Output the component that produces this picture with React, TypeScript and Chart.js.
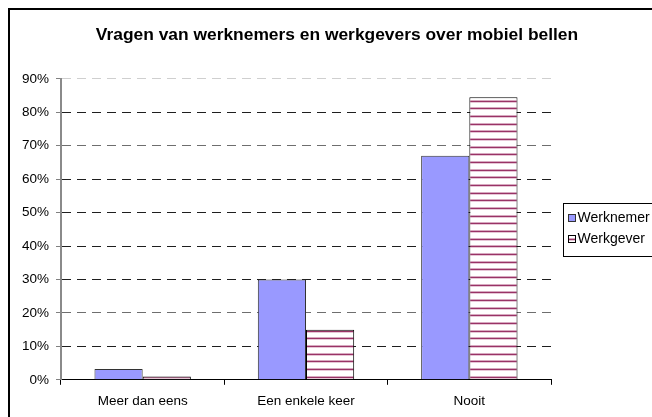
import React, { useEffect, useRef } from "react";
import { Chart, registerables } from "chart.js";

Chart.register(...registerables);

const categories = ["Meer dan eens", "Een enkele keer", "Nooit"];
const werknemer = [3.2, 30, 67];
const werkgever = [1, 15, 84.5];
const seriesNames = ["Werknemer", "Werkgever"];
const titleText = "Vragen van werknemers en werkgevers over mobiel bellen";
const yMax = 90;
const yStep = 10;

const FONT = "'Liberation Sans', Arial, Helvetica, sans-serif";

function makeStripePattern(): CanvasPattern | string {
  const c = document.createElement("canvas");
  c.width = 4;
  c.height = 23;
  const g = c.getContext("2d");
  if (!g) return "#993366";
  g.fillStyle = "#ffffff";
  g.fillRect(0, 0, 4, 23);
  const rows = [0, 8, 15];
  for (const r of rows) {
    g.fillStyle = "#d7a9c0";
    g.fillRect(0, r, 4, 1);
    g.fillStyle = "#993366";
    g.fillRect(0, r + 1, 4, 1);
    g.fillStyle = "#e6c6d6";
    g.fillRect(0, r + 2, 4, 1);
  }
  const p = g.createPattern(c, "repeat");
  return p || "#993366";
}

export default function App() {
  const ref = useRef<HTMLCanvasElement | null>(null);

  useEffect(() => {
    const canvas = ref.current;
    if (!canvas) return;
    const stripes = makeStripePattern();

    const frame = {
      id: "frame",
      beforeDraw(chart: any) {
        const ctx = chart.ctx;
        ctx.save();
        ctx.fillStyle = "#ffffff";
        ctx.fillRect(0, 0, chart.width, chart.height);
        ctx.strokeStyle = "#000000";
        ctx.lineWidth = 2;
        ctx.strokeRect(9, 9, chart.width + 20, chart.height + 20);
        ctx.restore();
      },
      afterDraw(chart: any) {
        const ctx = chart.ctx;
        const area = chart.chartArea;
        const boxLeft = Math.round(area.right + 12) + 0.5;
        const boxTop = 203.5;
        const boxH = 53;
        ctx.save();
        ctx.strokeStyle = "#000000";
        ctx.lineWidth = 1;
        ctx.strokeRect(boxLeft, boxTop, 140, boxH);
        ctx.font = "14px " + FONT;
        ctx.textBaseline = "middle";
        ctx.textAlign = "left";
        chart.data.datasets.forEach((ds: any, i: number) => {
          const cy = boxTop + 14 + i * 21;
          const sx = Math.round(boxLeft + 4) + 0.5;
          const sy = Math.round(cy - 4) + 0.5;
          ctx.fillStyle = ds.backgroundColor;
          ctx.fillRect(sx, sy, 7, 7);
          ctx.strokeStyle = ds.borderColor;
          ctx.strokeRect(sx, sy, 7, 7);
          ctx.fillStyle = "#000000";
          ctx.fillText(ds.label, sx + 9, cy + 1);
        });
        ctx.restore();
      },
    };

    const gridColor = (c: any) => {
      const v = c.tick ? c.tick.value : 0;
      if (v === 90) return "#cfcfcf";
      if (v === 70 || v === 20) return "#6e6e6e";
      return "#1e1e1e";
    };

    const chart = new Chart(canvas, {
      type: "bar",
      data: {
        labels: categories,
        datasets: [
          {
            label: seriesNames[0],
            data: werknemer,
            backgroundColor: "#9999ff",
            borderColor: "#333333",
            borderWidth: 1,
            yAxisID: "y",
          },
          {
            label: seriesNames[1],
            data: werkgever,
            backgroundColor: stripes as any,
            borderColor: "#000000",
            borderWidth: 1,
            yAxisID: "y",
          },
        ],
      },
      options: {
        responsive: false,
        animation: false,
        devicePixelRatio: 1,
        layout: { padding: { left: 8, right: 34, top: 8, bottom: 23 } },
        datasets: {
          bar: { categoryPercentage: 0.59, barPercentage: 1 },
        },
        plugins: {
          legend: { display: false },
          tooltip: { enabled: false },
          title: {
            display: true,
            text: titleText,
            color: "#000000",
            font: { family: FONT, size: 17.4, weight: "bold" },
            padding: { top: 17, bottom: 33 },
          },
        },
        scales: {
          x: {
            grid: {
              display: true,
              drawOnChartArea: false,
              drawTicks: true,
              tickLength: 5,
              tickColor: "#000000",
              offset: true,
            },
            border: { display: true, color: "#000000", width: 1 },
            ticks: {
              color: "#000000",
              font: { family: FONT, size: 13.5 },
              padding: 8,
              maxRotation: 0,
            },
          },
          y: {
            min: 0,
            max: yMax,
            afterFit(s: any) {
              s.width = 53;
            },
            grid: {
              display: true,
              drawOnChartArea: true,
              drawTicks: true,
              tickLength: 5,
              color: gridColor,
              lineWidth: 1,
              tickColor: "#808080",
              tickBorderDash: [],
            },
            border: { display: true, color: "#8a8a8a", width: 2, dash: [9, 6] },
            ticks: {
              stepSize: yStep,
              color: "#000000",
              font: { family: FONT, size: 13.5 },
              padding: 7,
              callback: (v: any) => v + "%",
            },
          },
          yR: {
            type: "linear",
            position: "right",
            display: true,
            afterFit(s: any) {
              s.width = 115;
            },
            grid: { display: false },
            border: { display: false },
            ticks: { display: false },
          },
        },
      } as any,
      plugins: [frame],
    });

    return () => chart.destroy();
  }, []);

  return (
    <div
      style={{
        position: "fixed",
        left: 0,
        top: 0,
        width: 652,
        height: 417,
        overflow: "hidden",
        background: "#ffffff",
      }}
    >
      <canvas ref={ref} width={700} height={440} style={{ width: 700, height: 440, display: "block" }} />
    </div>
  );
}
